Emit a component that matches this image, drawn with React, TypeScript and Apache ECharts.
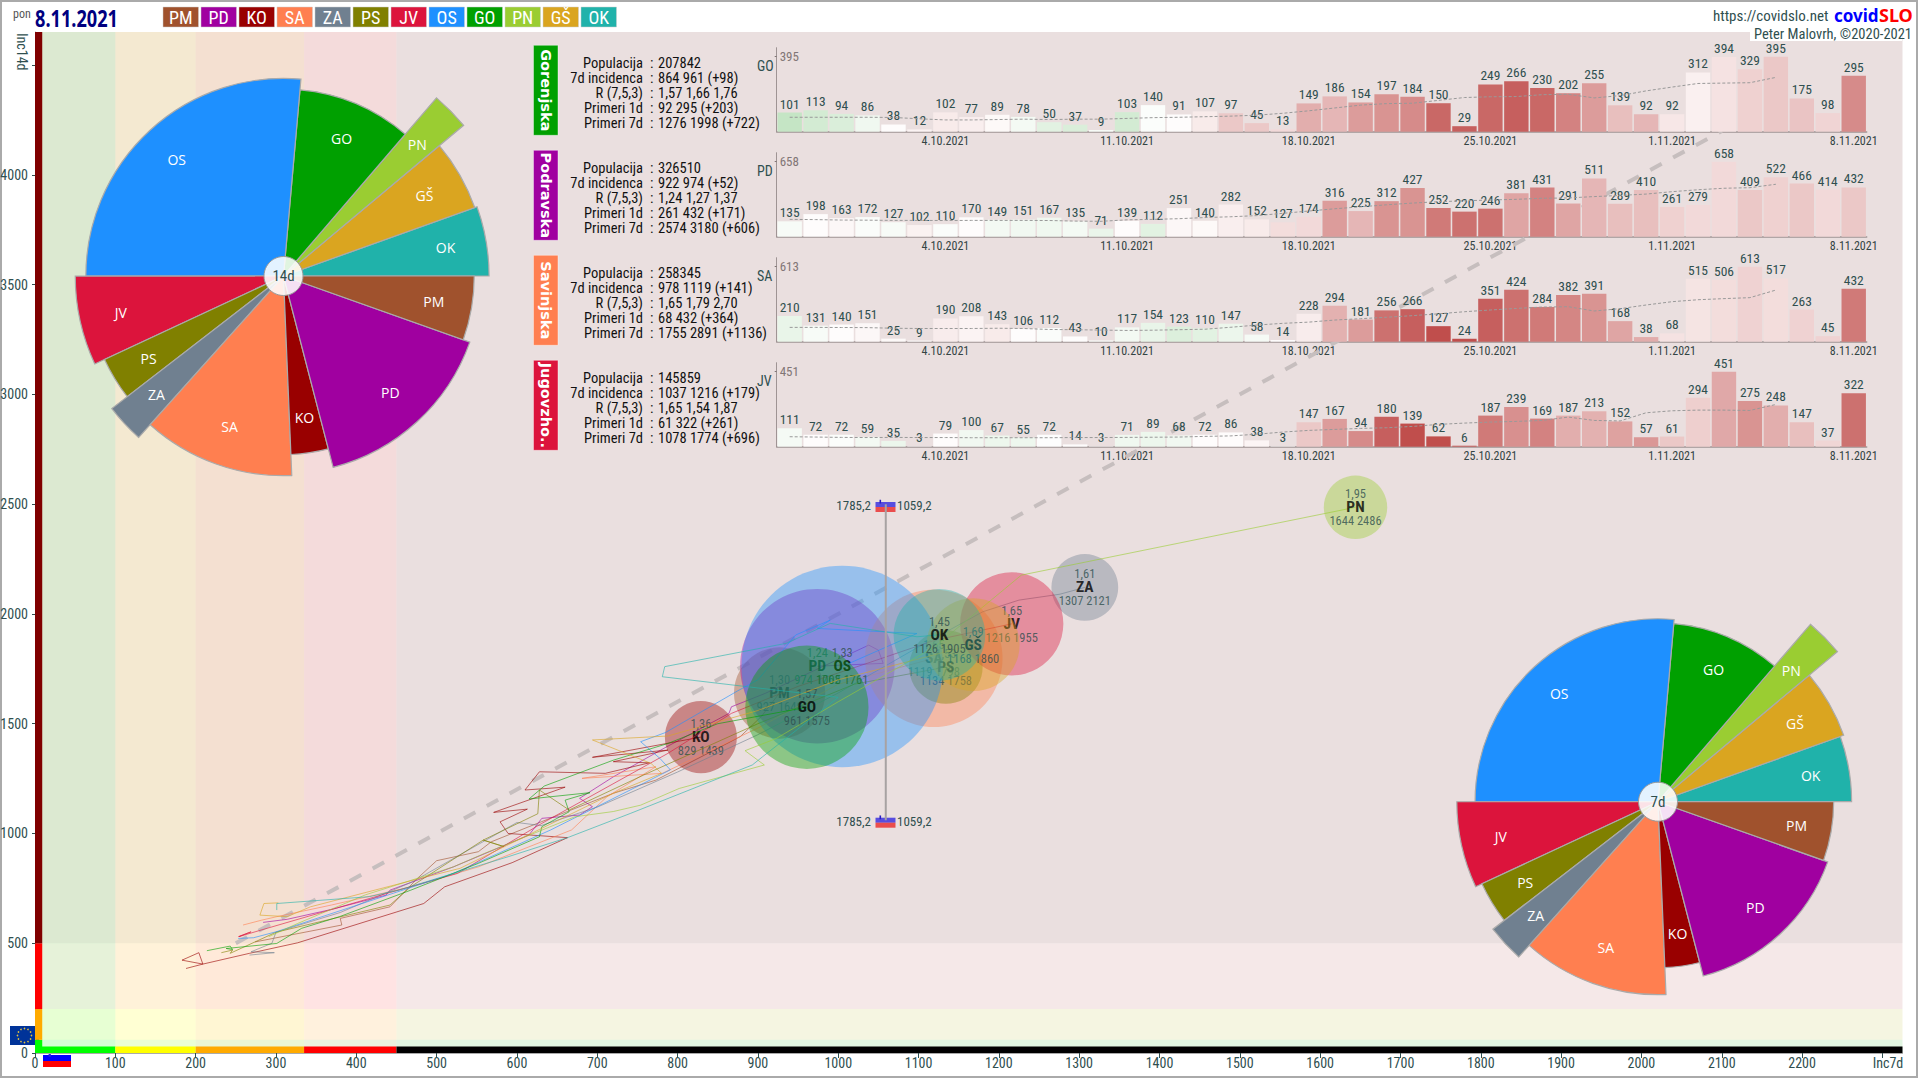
import React, { useEffect, useRef } from "react";
import * as echarts from "echarts";

const FONT = "'Liberation Sans Narrow','Roboto Condensed','Open Sans',sans-serif";
const INK = "#2f4f4f";

const legendNames = ["PM", "PD", "KO", "SA", "ZA", "PS", "JV", "OS", "GO", "PN", "GŠ", "OK"];
const legendColors = ["#a0522d", "#a000a0", "#990000", "#ff7f50", "#708090", "#808000", "#dc143c", "#1e90ff", "#00a000", "#9acd32", "#daa520", "#20b2aa"];
const inc7 = [927, 974, 829, 1119, 1307, 1134, 1216, 1005, 961, 1644, 1168, 1126];
const inc14 = [1640, 1762, 1439, 1798, 2121, 1758, 1955, 1761, 1575, 2486, 1860, 1905];
const rNow = ["1,30", "1,24", "1,36", "1,65", "1,61", "1,53", "1,65", "1,33", "1,57", "1,95", "1,69", "1,45"];
const population = [114000, 326510, 71000, 258345, 61000, 74000, 145859, 555000, 207842, 55000, 118000, 115000];
const pieOrder = ["OK", "GŠ", "PN", "GO", "OS", "JV", "PS", "ZA", "SA", "KO", "PD", "PM"];

const trailPM = [[274,506],[382,583],[380,613],[442,666],[476,795],[500,876],[552,917],[568,962],[615,1031],[662,1099],[720,1183],[773,1243],[878,1441],[904,1532],[927,1640]];
const trailPD = [[284,595],[314,609],[369,654],[437,719],[442,742],[521,848],[615,993],[631,1069],[678,1084],[694,1122],[678,1160],[720,1258],[783,1388],[864,1547],[867,1577],[909,1638],[1038,1858],[1050,1835],[1056,1775],[974,1762]];
const trailKO = [[188,385],[209,405],[183,423],[204,457],[209,405],[267,454],[327,502],[484,681],[510,757],[594,867],[663,981],[589,1000],[579,1053],[613,1111],[571,1096],[660,1211],[610,1198],[628,1281],[710,1274],[765,1322],[720,1327],[788,1380],[694,1347],[829,1439]];
const trailSA = [[259,583],[282,605],[301,621],[369,674],[468,757],[552,848],[668,1016],[712,1167],[773,1304],[681,1251],[781,1274],[900,1480],[1000,1680],[1119,1798]];
const trailZA = [[267,446],[298,457],[269,461],[295,500],[300,550],[380,640],[470,780],[600,1050],[630,1036],[700,1120],[800,1280],[900,1450],[1000,1640],[1100,1850],[1180,2010],[1225,2063],[1276,2090],[1307,2121]];
const trailPS = [[232,457],[246,469],[243,454],[300,550],[380,620],[442,674],[468,758],[558,970],[584,940],[558,970],[626,1090],[628,1198],[665,1107],[760,1270],[900,1500],[1020,1680],[1134,1758]];
const trailJV = [[253,530],[269,552],[254,530],[274,552],[437,726],[526,818],[631,1046],[788,1365],[867,1547],[950,1670],[1040,1780],[1120,1880],[1216,1955]];
const trailOS = [[253,522],[272,525],[301,553],[521,818],[642,1016],[791,1290],[778,1342],[754,1418],[785,1460],[848,1593],[875,1650],[900,1700],[947,1904],[990,1972],[974,1934],[1098,1911],[1005,1761]];
const trailGO = [[214,466],[243,487],[246,471],[238,476],[301,499],[332,568],[379,621],[468,742],[552,864],[628,985],[631,1031],[665,1099],[660,1152],[691,1186],[615,1157],[634,1216],[720,1334],[788,1410],[850,1500],[961,1575]];
const trailPN = [[291,530],[327,590],[411,720],[521,848],[560,910],[672,1076],[720,1100],[754,1129],[802,1205],[908,1312],[884,1377],[923,1433],[1000,1600],[1120,1850],[1228,2177],[1644,2486]];
const trailGS = [[303,684],[285,681],[280,628],[314,621],[343,666],[479,795],[529,841],[720,1183],[780,1274],[767,1319],[694,1426],[788,1444],[900,1560],[1000,1700],[1168,1860]];
const trailOK = [[301,651],[301,681],[416,712],[453,742],[589,894],[663,981],[741,1091],[893,1312],[906,1350],[1000,1620],[781,1714],[784,1760],[935,1866],[990,1957],[1098,1896],[1126,1905]];
const trails = [trailPM, trailPD, trailKO, trailSA, trailZA, trailPS, trailJV, trailOS, trailGO, trailPN, trailGS, trailOK];

const guideLine = [[250, 500], [2100, 4200]];
const sloX = 1059.2;
const sloY = 1785.2;
const sloLine = [[sloX, 1060], [sloX, 2500]];

const xMax = 2325;
const xThresholds = [0, 100, 200, 335, 450, xMax];
const yThresholds = [0, 60, 200, 500, 4651];
const xBandColors = ["rgba(0,255,0,.1)", "rgba(255,255,0,.1)", "rgba(255,165,0,.1)", "rgba(255,0,0,.06)", "rgba(0,0,0,.04)"];
const yBandColors = ["rgba(0,255,0,.08)", "rgba(255,255,0,.08)", "rgba(255,0,0,.05)", "rgba(128,0,0,.085)"];
const xStripColors = ["#00ff00", "#ffff00", "#ffaa00", "#ff0000", "#000000"];
const yStripColors = ["#00ff00", "#ffaa00", "#ff0000", "#800000"];

const panelKeys = ["GO", "PD", "SA", "JV"];
const panelTitles = ["Gorenjska", "Podravska", "Savinjska", "Jugovzho.."];
const panelTagColors = ["#00a000", "#a000a0", "#ff7f50", "#dc143c"];
const tableLabels = ["Populacija", "7d incidenca", "R (7,5,3)", "Primeri 1d", "Primeri 7d"];
const tableGO = ["207842", "864 961 (+98)", "1,57 1,66 1,76", "92 295 (+203)", "1276 1998 (+722)"];
const tablePD = ["326510", "922 974 (+52)", "1,24 1,27 1,37", "261 432 (+171)", "2574 3180 (+606)"];
const tableSA = ["258345", "978 1119 (+141)", "1,65 1,79 2,70", "68 432 (+364)", "1755 2891 (+1136)"];
const tableJV = ["145859", "1037 1216 (+179)", "1,65 1,54 1,87", "61 322 (+261)", "1078 1774 (+696)"];
const tables = [tableGO, tablePD, tableSA, tableJV];

const casesGO = [101,113,94,86,38,12,102,77,89,78,50,37,9,103,140,91,107,97,45,13,149,186,154,197,184,150,29,249,266,230,202,255,139,92,92,312,394,329,395,175,98,295];
const casesPD = [135,198,163,172,127,102,110,170,149,151,167,135,71,139,112,251,140,282,152,127,174,316,225,312,427,252,220,246,381,431,291,511,289,410,261,279,658,409,522,466,414,432];
const casesSA = [210,131,140,151,25,9,190,208,143,106,112,43,10,117,154,123,110,147,58,14,228,294,181,256,266,127,24,351,424,284,382,391,168,38,68,515,506,613,517,263,45,432];
const casesJV = [111,72,72,59,35,3,79,100,67,55,72,14,3,71,89,68,72,86,38,3,147,167,94,180,139,62,6,187,239,169,187,213,152,57,61,294,451,275,248,147,37,322];
const panelCases = [casesGO, casesPD, casesSA, casesJV];

const trendGO = [-4,-3,-2.5,-1,0,.5,1,.8,.2,-.7,-2,-2.5,-.5,-3,-.2,0,1,3,3,2,4.5,4,5.5,6,6.5,8.5,9,8.5,9,8.5,7,5.5,3.5,4,1.2,.7,1.5,2.5,3,3.2,2.3,6.5];
const trendPD = [-.5,0,.3,-.3,-.5,.6,-.3,0,-.8,-.9,-1,-.7,-1.4,0,-2,.3,.2,.8,1,1.8,2,5.5,4,6,6,7.5,8,8,5,7,5,4,3.5,3.5,2.5,2,2,3,2.5,3,2,3];
const trendSA = [-1.5,-.5,0,.3,.2,.1,.9,.5,1,0,-.3,0,-.3,-.8,-1.5,-2.4,-2,-1.3,-.6,0,.9,4.3,5.5,8,9,10,10,9,8,7.5,6.8,6,5,4.6,1.5,1.4,1.8,2.4,1.8,2.4,2.4,7.5];
const trendJV = [-.6,0,-.2,-.8,-1.3,0,0,-.9,-1.2,-1.1,-.1,0,0,-1,-1.2,-.9,0,0,.4,0,3,5.5,6.5,9,10,10,9,7.5,6.2,7,4.5,4.3,5.2,5.8,3,2.6,4.8,6,4.5,3.5,2.2,8];
const panelTrends = [trendGO, trendPD, trendSA, trendJV];

const avgGO = [76,76,76,76,75,68,62,62,64,66,64,66,66,70,74,76,79,82,87,97,110,125,140,148,150,165,180,184,185,195,197,178,190,215,235,254,256,258,286];
const avgPD = [152,150,146,145,143,143,142,143,143,143,142,137,135,148,152,158,168,175,185,205,225,245,262,280,295,307,315,322,328,337,340,352,362,374,395,412,425,430,460];
const avgSA = [117,117,116,115,110,108,108,108,110,108,100,98,95,92,94,98,102,118,136,150,160,177,188,200,213,228,245,259,272,283,286,251,270,300,327,343,352,360,422];
const avgJV = [60,58,56,55,56,55,55,54,54,54,54,55,55,56,57,58,62,65,75,88,98,104,110,114,122,134,142,148,152,158,178,158,155,204,216,220,220,218,254];
const panelAverages = [avgGO, avgPD, avgSA, avgJV];

const days: string[] = [];
for (let i = 0; i < 42; i++) {
  const d = new Date(2021, 8, 28 + i);
  days.push(`${d.getDate()}.${d.getMonth() + 1}.${d.getFullYear()}`);
}

function mix(a: number[], b: number[], t: number) {
  return `rgb(${a.map((v, i) => Math.round(v + (b[i] - v) * t)).join(",")})`;
}
function trendColor(v: number) {
  return v >= 0 ? mix([254, 252, 252], [192, 78, 76], v / 10) : mix([254, 254, 254], [190, 226, 190], Math.min(1, -v / 4.5));
}
function alpha(hex: string, a: number) {
  const n = parseInt(hex.slice(1), 16);
  return `rgba(${(n >> 16) & 255},${(n >> 8) & 255},${n & 255},${a})`;
}

function renderSlice(color: (n: string) => string, fs: number) {
  return (params: any, api: any) => {
    const cs = params.coordSys;
    const a0 = api.value(1), a1 = api.value(2);
    const p = api.coord([api.value(0), 0]);
    const r = Math.hypot(p[0] - cs.cx, p[1] - cs.cy);
    const name = pieOrder[params.dataIndex];
    const mid = ((a0 + a1) / 2) * Math.PI / 180;
    return {
      type: "group",
      children: [
        {
          type: "sector",
          shape: { cx: cs.cx, cy: cs.cy, r0: 0, r, startAngle: -a0 * Math.PI / 180, endAngle: -a1 * Math.PI / 180, clockwise: false },
          style: { fill: color(name), stroke: "#aaaaaa", lineWidth: 1.2 },
        },
        {
          type: "text",
          style: {
            text: name, x: cs.cx + Math.cos(mid) * r * 0.8, y: cs.cy - Math.sin(mid) * r * 0.8,
            fill: "#fff", fontSize: fs, fontFamily: "Open Sans", textAlign: "center", textVerticalAlign: "middle",
          },
        },
      ],
    };
  };
}

function pieData(values: number[]) {
  const total = population.reduce((a, b) => a + b, 0);
  let ang = 0;
  return pieOrder.map((n) => {
    const i = legendNames.indexOf(n);
    const span = population[i] / total * 360;
    const row = [Math.sqrt(values[i]), ang, ang + span];
    ang += span;
    return row;
  });
}

function sloFlag(x: number, y: number, w: number, h: number, a: number) {
  const s = h / 3;
  return {
    type: "group", x, y, z: 60,
    children: [
      { type: "rect", shape: { x: 0, y: 0, width: w, height: s }, style: { fill: `rgba(255,255,255,${a})` } },
      { type: "rect", shape: { x: 0, y: s, width: w, height: s }, style: { fill: `rgba(0,0,255,${a})` } },
      { type: "rect", shape: { x: 0, y: 2 * s, width: w, height: s }, style: { fill: `rgba(255,0,0,${a})` } },
      { type: "rect", shape: { x: w * 0.2, y: s * 0.55, width: w * 0.08, height: s * 0.75 }, style: { fill: "#2222dd" } },
    ],
  };
}

function txt(text: string, x: number, y: number, opt: any = {}) {
  const { rotation, z, scaleX, ...style } = opt;
  return {
    type: "text", x, y, rotation: rotation ?? 0, scaleX: scaleX ?? 1, z: z ?? 60,
    style: { text, fill: INK, fontFamily: FONT, fontSize: 14, textAlign: "left", textVerticalAlign: "middle", ...style },
  };
}

function buildOption() {
  const panelBase = (i: number) => 131.7 + 105 * i;
  const grids: any[] = [{ left: 35, top: 32, width: 1867.5, height: 1021, outerBoundsMode: "none" }];
  const xAxes: any[] = [{
    type: "value", gridIndex: 0, min: 0, max: xMax, interval: 100, splitLine: { show: false },
    axisLine: { lineStyle: { color: "#aaa" } }, axisTick: { length: 5, lineStyle: { color: INK } },
    axisLabel: { color: INK, fontFamily: FONT, fontSize: 14, margin: 3, showMaxLabel: false, formatter: (v: number) => (v === 2300 ? "" : String(v)) },
  }];
  const yAxes: any[] = [{
    type: "value", gridIndex: 0, min: 0, max: 4651, interval: 500, splitLine: { show: false },
    axisLine: { lineStyle: { color: "#aaa" } }, axisTick: { length: 3, lineStyle: { color: INK } },
    axisLabel: { color: INK, fontFamily: FONT, fontSize: 14, margin: 7, showMaxLabel: false, formatter: (v: number) => (v === 4500 ? "" : String(v)) },
  }];

  const areaData: any[] = [];
  xBandColors.forEach((c, i) => areaData.push([{ xAxis: xThresholds[i], yAxis: 0, itemStyle: { color: c } }, { xAxis: xThresholds[i + 1], yAxis: 4651 }]));
  yBandColors.forEach((c, i) => areaData.push([{ xAxis: 0, yAxis: yThresholds[i], itemStyle: { color: c } }, { xAxis: xMax, yAxis: yThresholds[i + 1] }]));
  xStripColors.forEach((c, i) => areaData.push([{ xAxis: xThresholds[i], yAxis: 0, itemStyle: { color: c } }, { xAxis: xThresholds[i + 1], yAxis: 30 }]));
  yStripColors.forEach((c, i) => areaData.push([{ xAxis: 0, yAxis: yThresholds[i], itemStyle: { color: c } }, { xAxis: 9, yAxis: yThresholds[i + 1] }]));

  const series: any[] = [
    {
      type: "line", xAxisIndex: 0, yAxisIndex: 0, data: [[0, 0]], showSymbol: false, silent: true, z: 1, lineStyle: { width: 0 },
      markArea: { silent: true, data: areaData },
    },
    {
      type: "line", xAxisIndex: 0, yAxisIndex: 0, data: guideLine, showSymbol: false, silent: true, z: 2,
      lineStyle: { color: "#c6bebe", width: 4, type: [13, 13] },
    },
  ];

  legendNames.forEach((n, i) => {
    series.push({
      type: "line", name: n + " trail", xAxisIndex: 0, yAxisIndex: 0, data: trails[i], showSymbol: false, silent: true, z: 10 + i * 2,
      lineStyle: { color: legendColors[i], width: 1, opacity: 0.6 },
    });
    series.push({
      type: "scatter", name: n, xAxisIndex: 0, yAxisIndex: 0, data: [[inc7[i], inc14[i]]], silent: true, z: 11 + i * 2,
      symbolSize: Math.sqrt(population[i] / 1000) * 8.55,
      itemStyle: { color: alpha(legendColors[i], 0.5) },
      label: {
        show: true, position: "inside", formatter: `{r|${rNow[i]}}\n{n|${n}}\n{v|${inc7[i]} ${inc14[i]}}`,
        rich: {
          r: { color: INK, fontFamily: FONT, fontSize: 12.5, lineHeight: 13.5, align: "center" },
          n: { color: "#000", fontFamily: FONT, fontSize: 15.5, fontWeight: "bold", lineHeight: 13.5, align: "center" },
          v: { color: INK, fontFamily: FONT, fontSize: 12.5, lineHeight: 13.5, align: "center" },
        },
      },
    });
  });
  series.push({
    type: "line", xAxisIndex: 0, yAxisIndex: 0, data: sloLine, showSymbol: false, silent: true, z: 40,
    lineStyle: { color: "#a8a2a2", width: 2 },
  });

  panelKeys.forEach((key, i) => {
    const g = i + 1;
    const m = Math.max(...panelCases[i]);
    grids.push({ left: 776.7, top: panelBase(i) - 84, width: 1090, height: 84, outerBoundsMode: "none" });
    xAxes.push({
      type: "category", gridIndex: g, data: days, axisLine: { lineStyle: { color: "#a9a9a9", width: 1.5 } },
      axisTick: { alignWithLabel: true, length: 3, interval: (idx: number) => idx % 7 === 6, lineStyle: { color: "#888" } },
      axisLabel: { interval: (idx: number) => idx % 7 === 6, color: INK, fontFamily: FONT, fontSize: 12, margin: 3 },
    });
    yAxes.push({
      type: "value", gridIndex: g, min: 0, max: m * 1.12, splitLine: { show: false },
      axisLine: { show: true, lineStyle: { color: "#a9a9a9" } },
      axisTick: { show: true, length: 2, customValues: [m], lineStyle: { color: "#888" } },
      axisLabel: { show: true, inside: true, customValues: [m], color: "#888", fontFamily: FONT, fontSize: 13, margin: 3 },
    });
    series.push({
      type: "bar", name: key + " cases", xAxisIndex: g, yAxisIndex: g, barCategoryGap: "6%", z: 45, silent: true,
      data: panelCases[i].map((v, j) => ({ value: v, itemStyle: { color: trendColor(panelTrends[i][j]) } })),
      label: { show: true, position: "top", distance: 2, color: INK, fontFamily: FONT, fontSize: 13.5 },
    });
    series.push({
      type: "line", name: key + " avg", xAxisIndex: g, yAxisIndex: g, data: panelAverages[i], showSymbol: false, silent: true, z: 46,
      lineStyle: { color: "#999", width: 1, type: [3, 2] },
    });
  });

  const colorOf = (n: string) => legendColors[legendNames.indexOf(n)];
  const k14 = 4.71, k7 = 5.77, polarR = 300;
  series.push({
    type: "custom", coordinateSystem: "polar", polarIndex: 0, silent: true, z: 50,
    renderItem: renderSlice(colorOf, 14), data: pieData(inc14),
  });
  series.push({
    type: "custom", coordinateSystem: "polar", polarIndex: 1, silent: true, z: 50,
    renderItem: renderSlice(colorOf, 14), data: pieData(inc7),
  });

  const graphic: any[] = [];
  graphic.push({ type: "rect", z: 0, shape: { x: 1, y: 1, width: 1916, height: 1076 }, style: { fill: "none", stroke: "#aaaaaa", lineWidth: 2 } });
  graphic.push(txt("pon", 13, 14, { fontSize: 12, fill: "#555" }));
  graphic.push(txt("8.11.2021", 35, 18, { fontSize: 23, fontWeight: "bold", fill: "#000080", scaleX: 0.79, fontFamily: "'Noto Sans',sans-serif" }));
  legendNames.forEach((n, i) => {
    graphic.push({ type: "rect", z: 60, shape: { x: 163 + i * 38, y: 7, width: 35.5, height: 20 }, style: { fill: legendColors[i], stroke: "#ccc", lineWidth: 0.5 } });
    graphic.push(txt(n, 163 + i * 38 + 17.7, 17.5, { fontSize: 18, fill: "#fff", textAlign: "center" }));
  });
  graphic.push(txt("https://covidslo.net", 1713, 16, { fontSize: 15 }));
  graphic.push(txt("covid", 1834, 15, { fontSize: 17, fontWeight: "bold", fill: "#0000ff", fontFamily: "'Noto Sans',sans-serif" }));
  graphic.push(txt("SLO", 1879, 15, { fontSize: 18, fontWeight: "bold", fill: "#ff0000", fontFamily: "'Noto Sans',sans-serif" }));
  graphic.push({ type: "rect", z: 59, shape: { x: 1750, y: 28, width: 152, height: 13 }, style: { fill: "#fff" } });
  graphic.push(txt("Peter Malovrh, ©2020-2021", 1754, 34, { fontSize: 14.5 }));
  graphic.push(txt("Inc14d", 22, 33, { fontSize: 14, rotation: -Math.PI / 2 }));
  graphic.push(txt("Inc7d", 1888, 1063, { fontSize: 14, textAlign: "center" }));

  panelKeys.forEach((key, i) => {
    const dy = 105 * i;
    graphic.push({ type: "rect", z: 60, shape: { x: 533.5, y: 45.3 + dy, width: 24.5, height: 90 }, style: { fill: panelTagColors[i], stroke: "rgba(255,255,255,.4)", lineWidth: 1 } });
    graphic.push(txt(panelTitles[i], 545.7, 90.3 + dy, { rotation: -Math.PI / 2, textAlign: "center", fontFamily: "'DejaVu Sans',sans-serif", fontWeight: "bold", fontSize: 14.5, fill: "#fff" }));
    tableLabels.forEach((lab, j) => {
      const y = 63.2 + j * 15 + dy;
      graphic.push(txt(lab, 643, y, { textAlign: "right", fill: "#111", fontSize: 14.5 }));
      graphic.push(txt(":", 650, y, { fill: "#111", fontSize: 14.5 }));
      graphic.push(txt(tables[i][j], 658, y, { fill: "#111", fontSize: 14.5 }));
    });
    graphic.push(txt(key, 757, 66 + dy, { fontSize: 14 }));
  });

  graphic.push(sloFlag(875.5, 497, 20, 15, 0.65));
  graphic.push(sloFlag(875.5, 812.7, 20, 15, 0.65));
  graphic.push(txt("1785,2", 871, 505, { textAlign: "right", fontSize: 13 }));
  graphic.push(txt("1059,2", 897, 505, { fontSize: 13 }));
  graphic.push(txt("1785,2", 871, 821, { textAlign: "right", fontSize: 13 }));
  graphic.push(txt("1059,2", 897, 821, { fontSize: 13 }));
  graphic.push(sloFlag(43, 1049, 28, 18, 1));

  const euStars = Array.from({ length: 12 }, (_, i) => ({
    type: "circle",
    shape: { cx: 14.5 + 7 * Math.cos(i * Math.PI / 6), cy: 9.5 + 7 * Math.sin(i * Math.PI / 6), r: 0.8 },
    style: { fill: "#e0c040" },
  }));
  graphic.push({ type: "group", x: 10, y: 1026, z: 60, children: [{ type: "rect", shape: { x: 0, y: 0, width: 29, height: 19 }, style: { fill: "#003399" } }, ...euStars] });

  [[283.5, 276, "14d"], [1658, 801.7, "7d"]].forEach(([cx, cy, t]: any) => {
    graphic.push({ type: "circle", z: 70, shape: { cx, cy, r: 19.5 }, style: { fill: "rgba(255,255,255,.88)", stroke: "#999", lineWidth: 1 } });
    graphic.push(txt(t, cx, cy, { z: 71, textAlign: "center", fontSize: 15 }));
  });

  return {
    animation: false,
    backgroundColor: "#ffffff",
    textStyle: { fontFamily: FONT },
    grid: grids,
    xAxis: xAxes,
    yAxis: yAxes,
    polar: [
      { center: [283.5, 276], radius: polarR },
      { center: [1658, 801.7], radius: polarR },
    ],
    angleAxis: [
      { polarIndex: 0, min: 0, max: 360, startAngle: 0, clockwise: false, show: false },
      { polarIndex: 1, min: 0, max: 360, startAngle: 0, clockwise: false, show: false },
    ],
    radiusAxis: [
      { polarIndex: 0, min: 0, max: polarR / k14, show: false },
      { polarIndex: 1, min: 0, max: polarR / k7, show: false },
    ],
    series,
    graphic,
  };
}

export default function App() {
  const ref = useRef<HTMLDivElement | null>(null);
  useEffect(() => {
    document.body.style.margin = "0";
    const chart = echarts.init(ref.current as HTMLDivElement, undefined, { renderer: "svg" });
    chart.setOption(buildOption() as any);
    return () => chart.dispose();
  }, []);
  return <div ref={ref} style={{ width: 1920, height: 1080 }} />;
}
